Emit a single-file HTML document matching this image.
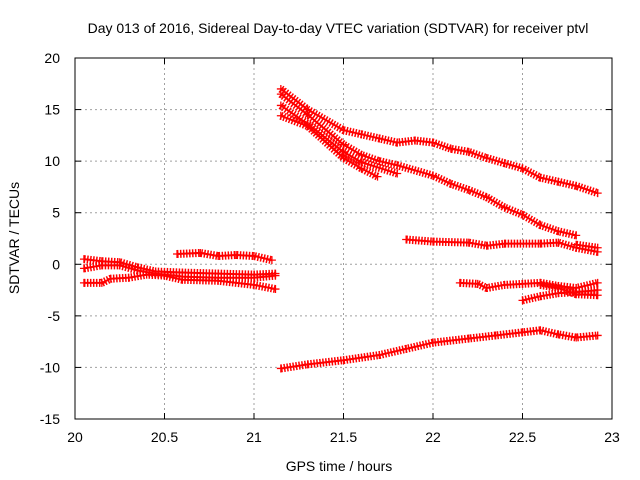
<!DOCTYPE html>
<html><head><meta charset="utf-8"><style>
body{margin:0;background:#fff;}
svg{display:block;font-family:"Liberation Sans",sans-serif;}
</style></head><body>
<svg id="chart" width="640" height="480" xmlns="http://www.w3.org/2000/svg">
<rect width="640" height="480" fill="#fff"/>
<text x="338" y="33" font-size="14" text-anchor="middle">Day 013 of 2016, Sidereal Day-to-day VTEC variation (SDTVAR) for receiver ptvl</text>
<g id="grid"></g>
<g id="axes"></g>
<g id="series"></g>
<rect x="75" y="58" width="537" height="361" fill="none" stroke="#000" stroke-width="1"/>
<text x="339" y="471" font-size="14" text-anchor="middle">GPS time / hours</text>
<text x="0" y="0" font-size="14" text-anchor="middle" transform="translate(19,238) rotate(-90)">SDTVAR / TECUs</text>
</svg>
<script>
const xTicks=[20,20.5,21,21.5,22,22.5,23];
const xTickLabels=["20","20.5","21","21.5","22","22.5","23"];
const yTicks=[20,15,10,5,0,-5,-10,-15];
const yTickLabels=["20","15","10","5","0","-5","-10","-15"];
const trackL1X=[20.05,20.15,20.25,20.35,20.45,20.6,20.8,21.0,21.12];
const trackL1Y=[0.5,0.3,0.2,-0.3,-0.7,-0.8,-0.9,-1.0,-0.9];
const trackL2X=[20.05,20.15,20.25,20.35,20.45,20.6,20.8,21.0,21.12];
const trackL2Y=[-0.4,-0.1,-0.1,-0.6,-0.9,-1.2,-1.3,-1.3,-1.1];
const trackL3X=[20.05,20.15,20.2,20.3,20.4,20.5,20.6,20.8,21.0,21.12];
const trackL3Y=[-1.8,-1.8,-1.4,-1.3,-1.0,-1.1,-1.5,-1.6,-2.0,-2.4];
const trackL4X=[20.57,20.7,20.8,20.9,21.0,21.1];
const trackL4Y=[1.0,1.1,0.8,0.9,0.8,0.4];
const trackR1X=[21.15,21.3,21.5,21.6,21.7,21.8,21.9,22.0,22.1,22.2,22.3,22.4,22.5,22.6,22.7,22.8,22.92];
const trackR1Y=[17.0,15.0,13.0,12.6,12.2,11.8,12.0,11.8,11.2,10.9,10.3,9.8,9.3,8.4,8.0,7.6,6.9];
const trackR2X=[21.15,21.3,21.5,21.6,21.7,21.8,22.0,22.1,22.2,22.3,22.4,22.5,22.6,22.7,22.8];
const trackR2Y=[16.5,14.5,11.6,10.6,10.0,9.6,8.6,7.8,7.2,6.5,5.5,4.8,3.8,3.2,2.8];
const trackR3X=[21.15,21.3,21.5,21.6,21.8];
const trackR3Y=[15.4,13.6,10.9,9.9,8.8];
const trackR4X=[21.15,21.3,21.5,21.6,21.69];
const trackR4Y=[14.4,13.4,10.3,9.3,8.5];
const trackR5X=[21.85,22.0,22.2,22.3,22.4,22.6,22.7,22.8,22.92];
const trackR5Y=[2.4,2.2,2.1,1.8,2.0,2.0,2.1,1.6,1.2];
const trackR5bX=[22.8,22.92];
const trackR5bY=[1.9,1.6];
const trackR6X=[22.15,22.25,22.3,22.4,22.5,22.6,22.7,22.8,22.92];
const trackR6Y=[-1.8,-1.9,-2.3,-2.0,-1.9,-1.8,-2.1,-2.3,-1.8];
const trackR7X=[22.5,22.6,22.7,22.8,22.92];
const trackR7Y=[-3.5,-3.1,-2.8,-2.7,-2.5];
const trackR8X=[22.6,22.7,22.8,22.92];
const trackR8Y=[-2.0,-2.3,-2.9,-3.0];
const trackR9X=[21.15,21.3,21.5,21.7,21.85,22.0,22.2,22.35,22.5,22.6,22.7,22.8,22.92];
const trackR9Y=[-10.1,-9.7,-9.3,-8.8,-8.2,-7.6,-7.2,-6.9,-6.6,-6.4,-6.8,-7.1,-6.9];
const tracks=[[trackL1X,trackL1Y],[trackL2X,trackL2Y],[trackL3X,trackL3Y],[trackL4X,trackL4Y],[trackR1X,trackR1Y],[trackR2X,trackR2Y],[trackR3X,trackR3Y],[trackR4X,trackR4Y],[trackR5X,trackR5Y],[trackR5bX,trackR5bY],[trackR6X,trackR6Y],[trackR7X,trackR7Y],[trackR8X,trackR8Y],[trackR9X,trackR9Y]];
const X0=75,X1=612,Y0=419,Y1=58;
function xs(v){return X0+(v-20)/3*(X1-X0);}
function ys(v){return Y0-(v+15)/35*(Y0-Y1);}
const NS="http://www.w3.org/2000/svg";
function mk(t,a){const e=document.createElementNS(NS,t);for(const k in a)e.setAttribute(k,a[k]);return e;}
const grid=document.getElementById('grid'),axes=document.getElementById('axes'),ser=document.getElementById('series');
xTicks.forEach((v,i)=>{
  const x=xs(v);
  if(i>0&&i<xTicks.length-1){const g=mk('line',{x1:x,x2:x,y1:Y1,y2:Y0,stroke:'#a0a0a0','stroke-dasharray':'2,3'});
  
  grid.appendChild(g);
  axes.appendChild(mk('line',{x1:x,x2:x,y1:Y0-6,y2:Y0,stroke:'#000'}));
  axes.appendChild(mk('line',{x1:x,x2:x,y1:Y1,y2:Y1+6,stroke:'#000'}));}
  const t=mk('text',{x:x,y:442,'font-size':14,'text-anchor':'middle'});t.textContent=xTickLabels[i];
  
  axes.appendChild(t);
});
yTicks.forEach((v,i)=>{
  const y=ys(v);
  if(i>0&&i<yTicks.length-1){const g=mk('line',{x1:X0,x2:X1,y1:y,y2:y,stroke:'#a0a0a0','stroke-dasharray':'2,3'});
  
  grid.appendChild(g);
  axes.appendChild(mk('line',{x1:X0,x2:X0+6,y1:y,y2:y,stroke:'#000'}));
  axes.appendChild(mk('line',{x1:X1-6,x2:X1,y1:y,y2:y,stroke:'#000'}));}
  const t=mk('text',{x:60,y:y+5,'font-size':14,'text-anchor':'end'});t.textContent=yTickLabels[i];
  
  axes.appendChild(t);
});
tracks.forEach((tr,k)=>{
  const [tx,ty]=tr;
  const g=mk('g',{});
  
  
  let d='';
  tx.forEach((v,i)=>{d+=(i?'L':'M')+xs(v)+','+ys(ty[i]);});
  g.appendChild(mk('path',{d:d,fill:'none',stroke:'#f00','stroke-width':8,'stroke-dasharray':'1.5,1.5','stroke-linejoin':'round'}));
  g.appendChild(mk('path',{d:d,fill:'none',stroke:'#f00','stroke-width':2}));
  tx.forEach((v,i)=>{
    const x=xs(v),y=ys(ty[i]);
    const p=mk('path',{d:`M${x-4},${y}H${x+4}M${x},${y-4}V${y+4}`,stroke:'#f00','stroke-width':1.3});
    
    
    g.appendChild(p);
  });
  ser.appendChild(g);
});
</script>
</body></html>
